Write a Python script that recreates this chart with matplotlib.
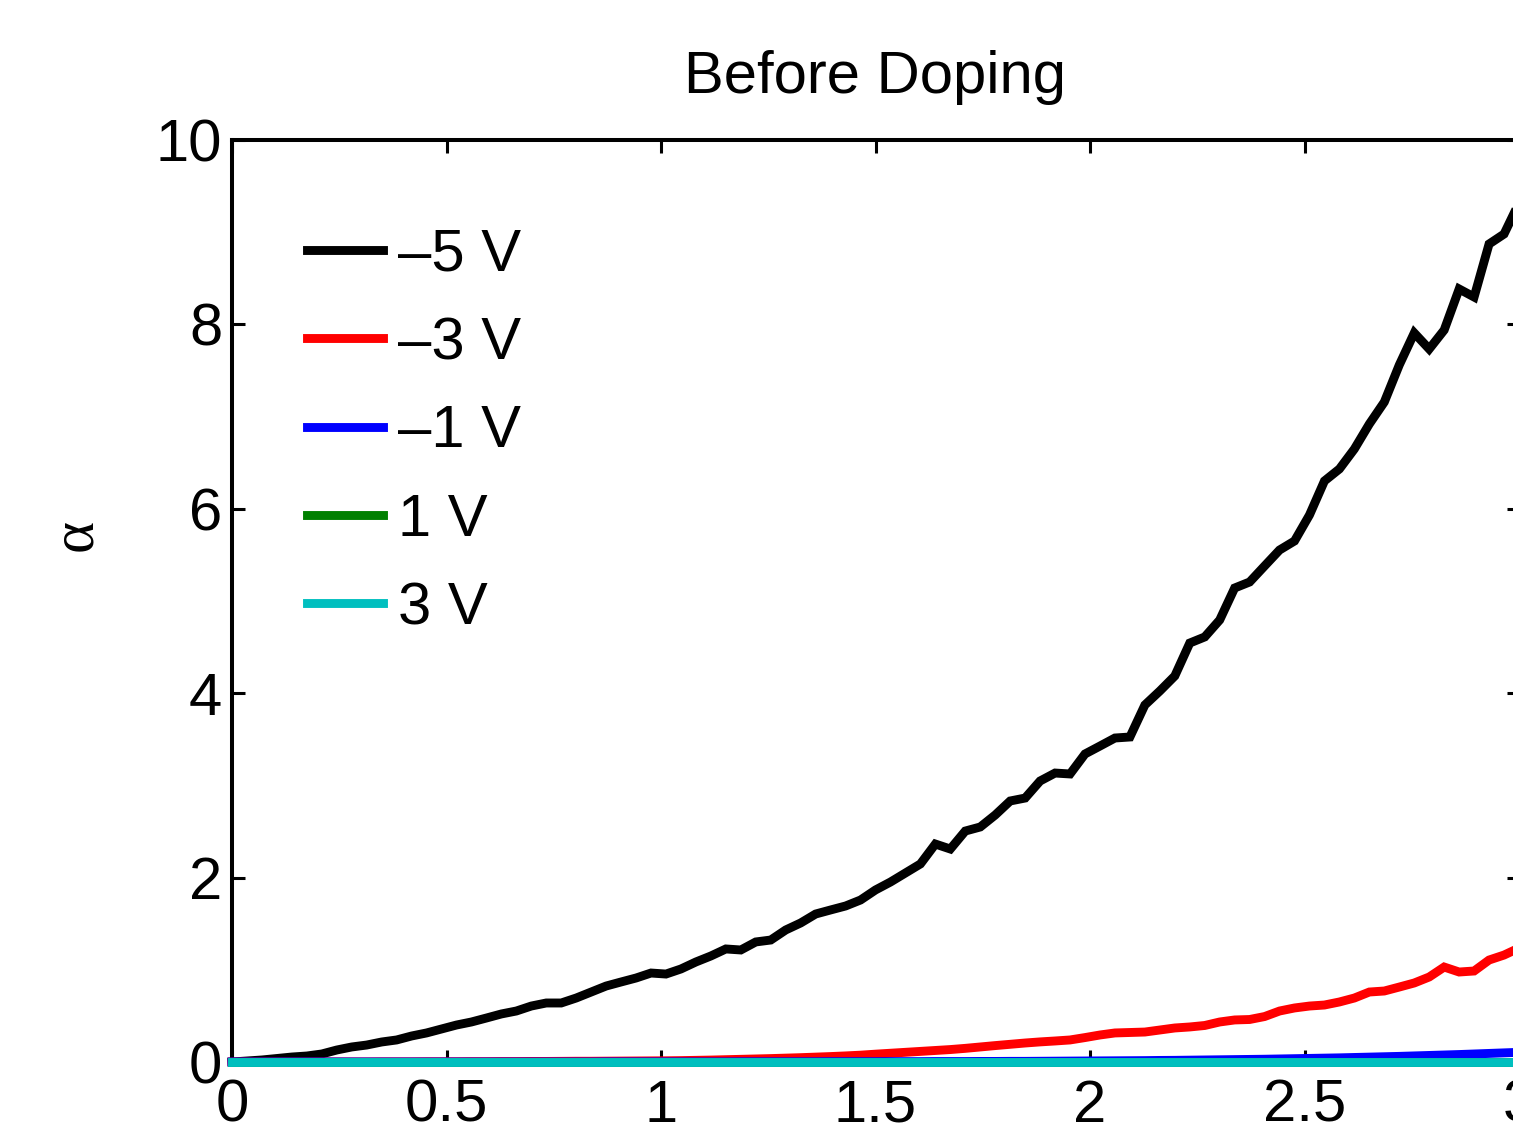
import numpy as np
import matplotlib
matplotlib.use("Agg")
import matplotlib.pyplot as plt

plt.rcParams['font.family'] = ['Liberation Sans', 'DejaVu Sans']

# bias values (legend labels)
labels = ["\u20135 V", "\u20133 V", "\u20131 V", "1 V", "3 V"]
colors = ["black", "#ff0000", "#0000ff", "#008000", "#00bfbf"]

# x grid (87 samples from 0 to 3)
x = np.linspace(0, 3, 87)

alpha_m5 = [0.0, 0.011, 0.022, 0.038, 0.054, 0.065, 0.087, 0.130, 0.163, 0.184,
            0.217, 0.239, 0.282, 0.315, 0.358, 0.401, 0.434, 0.477, 0.521, 0.553,
            0.607, 0.640, 0.640, 0.694, 0.759, 0.824, 0.868, 0.911, 0.965, 0.954,
            1.009, 1.085, 1.150, 1.226, 1.215, 1.302, 1.323, 1.432, 1.508, 1.605,
            1.649, 1.692, 1.757, 1.866, 1.952, 2.050, 2.148, 2.364, 2.310, 2.505,
            2.549, 2.679, 2.831, 2.863, 3.048, 3.134, 3.124, 3.341, 3.427, 3.514,
            3.525, 3.872, 4.024, 4.187, 4.544, 4.610, 4.794, 5.141, 5.206, 5.380,
            5.553, 5.651, 5.933, 6.302, 6.432, 6.649, 6.920, 7.158, 7.560, 7.907,
            7.733, 7.939, 8.384, 8.297, 8.872, 8.980, 9.317]

alpha_m3 = [0.0, 0.0, 0.0, 0.0, 0.0, 0.0, 0.001, 0.001, 0.001, 0.001,
            0.002, 0.002, 0.002, 0.003, 0.003, 0.003, 0.004, 0.004, 0.005, 0.005,
            0.006, 0.006, 0.007, 0.008, 0.008, 0.009, 0.010, 0.011, 0.012, 0.013,
            0.015, 0.018, 0.021, 0.025, 0.029, 0.033, 0.037, 0.042, 0.047, 0.053,
            0.059, 0.066, 0.074, 0.085, 0.095, 0.105, 0.115, 0.125, 0.135, 0.148,
            0.163, 0.178, 0.192, 0.206, 0.218, 0.228, 0.239, 0.265, 0.293, 0.315,
            0.320, 0.325, 0.347, 0.369, 0.380, 0.396, 0.434, 0.456, 0.461, 0.493,
            0.553, 0.586, 0.607, 0.618, 0.651, 0.694, 0.759, 0.770, 0.813, 0.857,
            0.922, 1.030, 0.976, 0.987, 1.106, 1.160, 1.236]

alpha_m1 = [0.0, 0.0, 0.0, 0.0, 0.0, 0.0, 0.0, 0.0, 0.0, 0.0,
            0.0, 0.0, 0.0, 0.0, 0.0, 0.0, 0.0, 0.0, 0.0, 0.0,
            0.0, 0.0, 0.0, 0.0, 0.0, 0.001, 0.001, 0.001, 0.001, 0.001,
            0.001, 0.001, 0.001, 0.001, 0.002, 0.002, 0.002, 0.002, 0.002, 0.002,
            0.003, 0.003, 0.003, 0.003, 0.004, 0.004, 0.004, 0.005, 0.005, 0.005,
            0.006, 0.006, 0.007, 0.007, 0.008, 0.009, 0.010, 0.011, 0.012, 0.013,
            0.014, 0.015, 0.017, 0.018, 0.020, 0.022, 0.024, 0.026, 0.028, 0.030,
            0.033, 0.036, 0.039, 0.042, 0.045, 0.049, 0.053, 0.057, 0.061, 0.066,
            0.071, 0.076, 0.081, 0.087, 0.093, 0.099, 0.105]

alpha_p1 = [0.0] * 87
alpha_p3 = [0.0] * 87

series = [alpha_m5, alpha_m3, alpha_m1, alpha_p1, alpha_p3]

fig = plt.figure(figsize=(15.13, 11.33), dpi=100)
ax = fig.add_axes([232 / 1513, 71 / 1133, 1287 / 1513, 922 / 1133])

for y, c, lab in zip(series, colors, labels):
    ax.plot(x, y, color=c, lw=6.4, label=lab, zorder=3, clip_on=False,
            solid_joinstyle="miter")

ax.set_xlim(0, 3)
ax.set_ylim(0, 10)
ax.set_xticks([0, 0.5, 1, 1.5, 2, 2.5, 3])
ax.set_xticklabels(["0", "0.5", "1", "1.5", "2", "2.5", "3"])
ax.set_yticks([0, 2, 4, 6, 8, 10])

ax.tick_params(direction="in", length=9, width=2.2, labelsize=43,
               top=True, right=True)
ax.tick_params(axis="x", pad=12)
ax.tick_params(axis="y", pad=7)
for s in ax.spines.values():
    s.set_linewidth(2.9)

ax.set_title("Before Doping", fontsize=43, pad=34)
ax.text(-0.121, 0.572, "\u03b1", rotation=90, fontsize=44,
        family=["Liberation Serif", "DejaVu Serif"],
        ha="center", va="center", transform=ax.transAxes)

ax.legend(loc="upper left", bbox_to_anchor=(0.058, 0.905), frameon=False,
          fontsize=43, handlelength=1.28, handletextpad=0.25,
          labelspacing=0.56, borderpad=0, borderaxespad=0)

fig.savefig("out.png", dpi=100)
